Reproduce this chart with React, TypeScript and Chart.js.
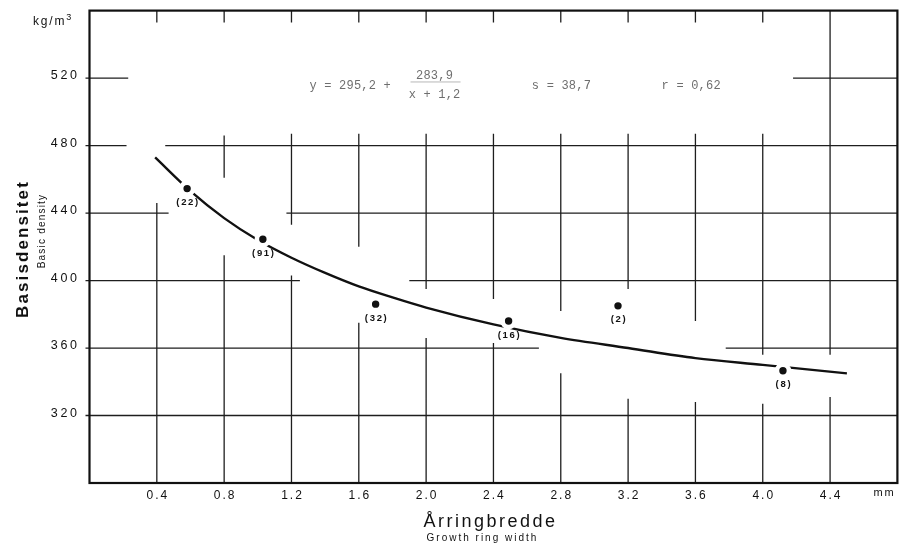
import React, { useEffect, useRef } from "react";
import { Chart, registerables } from "chart.js";

Chart.register(...registerables);

// Mean basic density (kg/m³) per growth-ring-width class, with number of samples
const ringWidth = [0.58, 1.03, 1.7, 2.49, 3.14, 4.12];
const basicDensity = [454.5, 424.5, 386, 376, 385, 346.5];
const sampleCounts = [22, 91, 32, 16, 2, 8];

// Fitted curve y = 295,2 + 283,9 / (x + 1,2), read along its drawn length
const curveX = [0.39, 0.6, 0.8, 1.0, 1.2, 1.4, 1.6, 1.8, 2.0, 2.4, 2.8, 3.2, 3.6, 4.0, 4.5];
const curveY = [473, 453, 437, 424, 413.5, 404.5, 396.5, 390, 384, 374, 366, 360, 354, 350, 345];

const xTicks = [0.4, 0.8, 1.2, 1.6, 2.0, 2.4, 2.8, 3.2, 3.6, 4.0, 4.4];
const xTickLabels = ["0.4", "0.8", "1.2", "1.6", "2.0", "2.4", "2.8", "3.2", "3.6", "4.0", "4.4"];
const yTicks = [320, 360, 400, 440, 480, 520];
const yTickLabels = ["320", "360", "400", "440", "480", "520"];

// Ruled grid, broken where the sheet leaves room for the curve and the formula.
// Horizontal runs: [density, from width, to width]
const hRuns = [
  [520, 0, 0.23], [520, 4.18, 4.8],
  [480, 0, 0.22], [480, 0.45, 4.8],
  [440, 0, 0.47], [440, 1.17, 4.8],
  [400, 0, 1.25], [400, 1.9, 4.8],
  [360, 0, 2.67], [360, 3.78, 4.8],
  [320, 0, 4.8],
];
// Vertical runs: [width, from density, to density]
const vRuns = [
  [0.4, 553, 560], [0.4, 280, 446],
  [0.8, 553, 560], [0.8, 461, 486], [0.8, 280, 415],
  [1.2, 553, 560], [1.2, 433, 487], [1.2, 280, 403],
  [1.6, 553, 560], [1.6, 420, 487], [1.6, 280, 375],
  [2.0, 553, 560], [2.0, 395, 487], [2.0, 280, 366],
  [2.4, 553, 560], [2.4, 389, 487], [2.4, 280, 363],
  [2.8, 553, 560], [2.8, 382, 487], [2.8, 280, 345],
  [3.2, 553, 560], [3.2, 395, 487], [3.2, 280, 330],
  [3.6, 553, 560], [3.6, 376, 487], [3.6, 280, 328],
  [4.0, 553, 560], [4.0, 356, 487], [4.0, 280, 327],
  [4.4, 356, 560], [4.4, 280, 331],
];

const SANS = '"Liberation Sans", Arial, sans-serif';
const MONO = '"Liberation Mono", "Courier New", monospace';

function spaced(ctx: CanvasRenderingContext2D, font: string, spacing: number) {
  ctx.font = font;
  (ctx as any).letterSpacing = `${spacing}px`;
}

const paperPlugin = {
  id: "paper",
  beforeDatasetsDraw(chart: any) {
    const { ctx, chartArea: a, scales } = chart;
    const xs = scales.x;
    const ys = scales.y;
    ctx.save();

    // grid
    ctx.strokeStyle = "#1e1e1e";
    ctx.lineWidth = 1.3;
    ctx.beginPath();
    for (const [v, from, to] of hRuns) {
      const py = ys.getPixelForValue(v);
      const x0 = xs.getPixelForValue(from) - (from === 0 ? 4 : 0);
      ctx.moveTo(x0, py);
      ctx.lineTo(xs.getPixelForValue(to), py);
    }
    for (const [v, from, to] of vRuns) {
      const px = xs.getPixelForValue(v);
      ctx.moveTo(px, ys.getPixelForValue(from));
      ctx.lineTo(px, ys.getPixelForValue(to));
    }
    ctx.stroke();

    // frame
    ctx.strokeStyle = "#111";
    ctx.lineWidth = 2.2;
    ctx.strokeRect(a.left, a.top, a.right - a.left, a.bottom - a.top);

    ctx.fillStyle = "#111";

    // y tick labels
    spaced(ctx, `12.5px ${SANS}`, 2.6);
    ctx.textAlign = "right";
    ctx.textBaseline = "alphabetic";
    yTicks.forEach((v, i) => {
      ctx.fillText(yTickLabels[i], a.left - 10, ys.getPixelForValue(v) + 1);
    });

    // x tick labels
    spaced(ctx, `12px ${SANS}`, 2);
    ctx.textAlign = "center";
    ctx.textBaseline = "middle";
    xTicks.forEach((v, i) => {
      ctx.fillText(xTickLabels[i], xs.getPixelForValue(v) + 1, a.bottom + 13);
    });
    spaced(ctx, `11px ${SANS}`, 2);
    ctx.textAlign = "left";
    ctx.fillText("mm", a.right - 24, a.bottom + 10);

    // unit on the density axis
    spaced(ctx, `12px ${SANS}`, 1.8);
    ctx.textAlign = "left";
    ctx.textBaseline = "alphabetic";
    ctx.fillText("kg/m", 33, 25);
    const w = ctx.measureText("kg/m").width;
    spaced(ctx, `9px ${SANS}`, 0);
    ctx.fillText("3", 33 + w, 20);

    // axis titles
    const cx = (a.left + a.right) / 2;
    spaced(ctx, `18px ${SANS}`, 2.5);
    ctx.textAlign = "center";
    ctx.fillText("Årringbredde", cx - 3, 527);
    spaced(ctx, `10px ${SANS}`, 2);
    ctx.fillText("Growth ring width", cx - 11, 541);

    ctx.save();
    ctx.translate(28, 249);
    ctx.rotate(-Math.PI / 2);
    spaced(ctx, `bold 17px ${SANS}`, 2.1);
    ctx.fillText("Basisdensitet", 0, 0);
    ctx.restore();

    ctx.save();
    ctx.translate(45, 231);
    ctx.rotate(-Math.PI / 2);
    spaced(ctx, `10px ${SANS}`, 1.2);
    ctx.fillText("Basic density", 0, 0);
    ctx.restore();

    // regression formula and statistics, typed on the sheet
    ctx.fillStyle = "#6e6e6e";
    ctx.strokeStyle = "#9a9a9a";
    spaced(ctx, `12px ${MONO}`, 0.2);
    ctx.textBaseline = "middle";
    const rowY = ys.getPixelForValue(515.7);
    ctx.textAlign = "left";
    ctx.fillText("y = 295,2 +", xs.getPixelForValue(1.307), rowY);
    ctx.textAlign = "center";
    const fracX = xs.getPixelForValue(2.05);
    ctx.fillText("283,9", fracX, ys.getPixelForValue(521.6));
    ctx.fillText("x + 1,2", fracX, ys.getPixelForValue(509.8));
    ctx.lineWidth = 0.7;
    ctx.beginPath();
    const barY = ys.getPixelForValue(517.7);
    ctx.moveTo(fracX - 24, barY);
    ctx.lineTo(fracX + 26, barY);
    ctx.stroke();
    ctx.textAlign = "left";
    ctx.fillText("s = 38,7", xs.getPixelForValue(2.628), rowY);
    ctx.fillText("r = 0,62", xs.getPixelForValue(3.399), rowY);

    ctx.restore();
  },
  afterDatasetsDraw(chart: any) {
    const { ctx, scales } = chart;
    ctx.save();
    ctx.fillStyle = "#111";
    spaced(ctx, `bold 9.5px ${SANS}`, 1.7);
    ctx.textAlign = "center";
    ctx.textBaseline = "middle";
    ringWidth.forEach((wv, i) => {
      const px = scales.x.getPixelForValue(wv);
      const py = scales.y.getPixelForValue(basicDensity[i]);
      ctx.fillText(`(${sampleCounts[i]})`, px + 1, py + 14);
    });
    ctx.restore();
  },
};

export default function App() {
  const canvasRef = useRef<HTMLCanvasElement | null>(null);

  useEffect(() => {
    const canvas = canvasRef.current;
    if (!canvas) return;
    const chart = new Chart(canvas, {
      type: "scatter",
      data: {
        datasets: [
          {
            label: "Fitted curve",
            data: curveX.map((x, i) => ({ x, y: curveY[i] })),
            showLine: true,
            borderColor: "#111",
            borderWidth: 2.4,
            pointRadius: 0,
            cubicInterpolationMode: "monotone",
            fill: false,
            order: 2,
          },
          {
            // white halo around each dot leaves the curve broken beside it
            label: "Basic density",
            data: ringWidth.map((x, i) => ({ x, y: basicDensity[i] })),
            pointRadius: 6,
            pointBackgroundColor: "#111",
            pointBorderColor: "#ffffff",
            pointBorderWidth: 4.6,
            showLine: false,
            order: 1,
          },
        ],
      },
      options: {
        responsive: false,
        animation: false,
        events: [],
        layout: { padding: { left: 89.5, right: 8.5, top: 9, bottom: 63 } },
        plugins: {
          legend: { display: false },
          tooltip: { enabled: false },
        },
        scales: {
          x: { type: "linear", min: 0, max: 4.8, display: false },
          y: { type: "linear", min: 280, max: 560, display: false },
        },
      },
      plugins: [paperPlugin],
    } as any);
    return () => chart.destroy();
  }, []);

  return (
    <div
      style={{
        position: "fixed",
        left: 0,
        top: 0,
        width: 908,
        height: 546,
        background: "#ffffff",
      }}
    >
      <canvas ref={canvasRef} width={908} height={546} style={{ width: 908, height: 546, display: "block" }} />
    </div>
  );
}
